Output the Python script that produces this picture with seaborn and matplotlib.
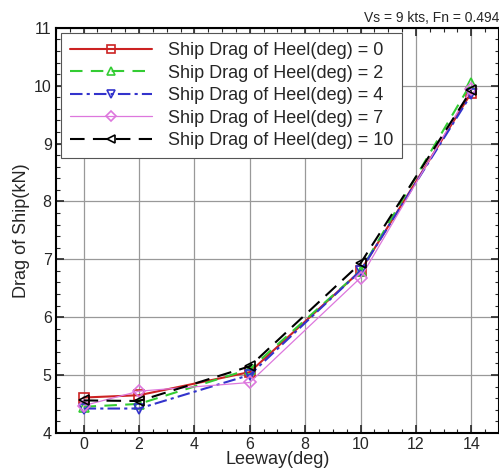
import numpy as np
import pandas as pd
import matplotlib
matplotlib.use('Agg')
import matplotlib.pyplot as plt
import seaborn as sns
from matplotlib.ticker import MultipleLocator

leeway = [0, 2, 6, 10, 14]
heel_0 = [4.61, 4.65, 5.05, 6.80, 9.88]
heel_2 = [4.45, 4.50, 5.10, 6.80, 10.05]
heel_4 = [4.42, 4.42, 5.00, 6.80, 9.85]
heel_7 = [4.47, 4.72, 4.87, 6.68, 9.95]
heel_10 = [4.56, 4.55, 5.15, 6.93, 9.92]

series = {
    'Ship Drag of Heel(deg) = 0': heel_0,
    'Ship Drag of Heel(deg) = 2': heel_2,
    'Ship Drag of Heel(deg) = 4': heel_4,
    'Ship Drag of Heel(deg) = 7': heel_7,
    'Ship Drag of Heel(deg) = 10': heel_10,
}

styles = [
    dict(color='#cc2222', linestyle='-', marker='s', lw=1.5, ms=7),
    dict(color='#33cc33', linestyle=(0, (6, 4)), marker='^', lw=1.5, ms=7),
    dict(color='#3333cc', linestyle=(0, (6, 2, 1.5, 2)), marker='v', lw=1.5, ms=7),
    dict(color='#dd77dd', linestyle='-', marker='D', lw=0.9, ms=6),
    dict(color='black', linestyle=(0, (7, 4)), marker='<', lw=1.5, ms=7),
]

sns.set_style('white')
plt.rcParams['font.family'] = ['Liberation Sans', 'DejaVu Sans']

fig = plt.figure(figsize=(4.99, 4.72), dpi=100)
ax = fig.add_axes([0.112, 0.083, 0.888, 0.858])

for (label, vals), st in zip(series.items(), styles):
    df = pd.DataFrame({'Leeway': leeway, 'Drag': vals})
    sns.lineplot(data=df, x='Leeway', y='Drag', ax=ax, label=label,
                 color=st['color'], linestyle=st['linestyle'], lw=st['lw'],
                 marker=st['marker'], markersize=st['ms'],
                 markerfacecolor='none', markeredgecolor=st['color'],
                 markeredgewidth=1.2)

ax.set_xlim(-1, 15)
ax.set_ylim(4, 11)
ax.xaxis.set_major_locator(MultipleLocator(2))
ax.xaxis.set_minor_locator(MultipleLocator(0.5))
ax.yaxis.set_major_locator(MultipleLocator(1))
ax.yaxis.set_minor_locator(MultipleLocator(0.2))
ax.tick_params(which='major', direction='in', length=6, width=1.2, labelsize=11.5,
               bottom=True, left=True, top=True, right=True, pad=3)
ax.tick_params(which='minor', direction='in', length=3, width=0.8,
               bottom=True, left=True, top=True, right=True)
ax.grid(True, which='major', color='#999999', lw=0.9)
for sp in ax.spines.values():
    sp.set_linewidth(1.5)
    sp.set_color('black')

ax.set_xlabel('Leeway(deg)', fontsize=13, labelpad=-1)
ax.set_ylabel('Drag of Ship(kN)', fontsize=13, labelpad=3)
ax.set_title('Vs = 9 kts, Fn = 0.494', loc='right', fontsize=10, pad=4)

leg = ax.legend(loc='upper left', fontsize=13, handlelength=4.5, frameon=True,
                fancybox=False, edgecolor='#555555', framealpha=1,
                borderaxespad=0.3, labelspacing=0.3, handletextpad=0.9,
                borderpad=0.5, markerscale=0.85)
leg.get_frame().set_linewidth(0.8)

fig.savefig('out.png', dpi=100)
